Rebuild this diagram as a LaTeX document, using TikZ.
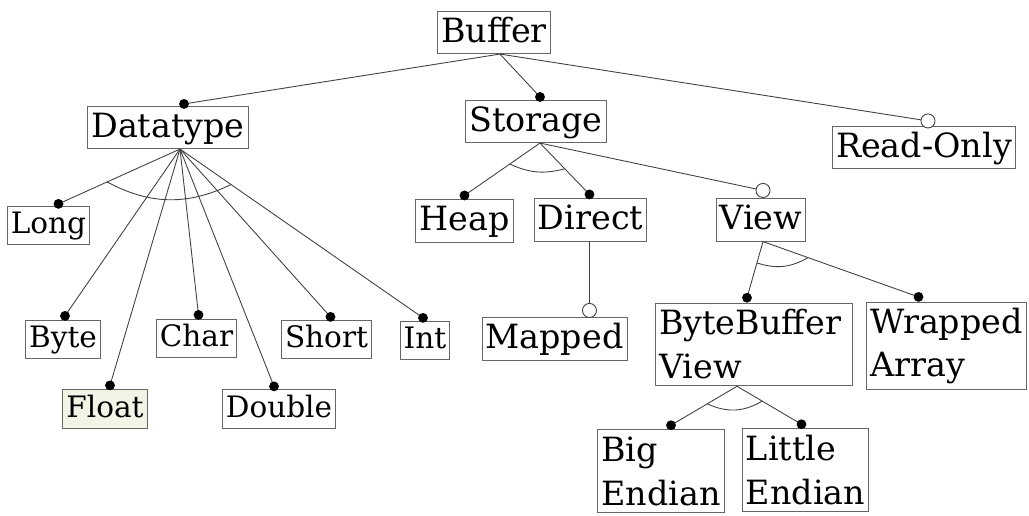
\documentclass[tikz,border=0pt]{standalone}
\usepackage{fontspec}
\setmainfont{DejaVu Serif}
\usetikzlibrary{calc,positioning}

\definecolor{floatbg}{HTML}{F2F4E6}
\tikzset{
  feat/.style={draw=black!60,line width=0.55pt,inner xsep=2pt,inner ysep=1.5pt,
    font=\fontsize{19}{22}\selectfont,text height=16pt,text depth=5pt},
  small/.style={font=\fontsize{16.8}{20}\selectfont,text height=13.5pt,text depth=4.3pt,inner ysep=2pt},
  twoline/.style={draw=black!60,line width=0.55pt,inner xsep=2pt,inner ysep=3pt,
    font=\fontsize{19}{25}\selectfont,align=left,minimum height=47pt},
  edge/.style={draw=black!75,line width=0.5pt},
}

\begin{document}
\begin{tikzpicture}[x=0.02cm,y=-0.02cm]
\useasboundingbox (0,0) rectangle (1029,515);
% features
\node[feat] (buffer) at (494,32.5) {Buffer};
\node[feat] (datatype) at (168,127.5) {Datatype};
\node[feat] (storage) at (536,121.5) {Storage};
\node[feat] (readonly) at (924,147.5) {Read-Only};
\node[feat,small] (long) at (48.5,225.5) {Long};
\node[feat,small] (byte) at (63,339.5) {Byte};
\node[feat,small,fill=floatbg] (float) at (105,409) {Float};
\node[feat,small] (char) at (196.5,338.5) {Char};
\node[feat,small] (double) at (279,409) {Double};
\node[feat,small] (short) at (326.5,339.5) {Short};
\node[feat,small] (int) at (425,340.5) {Int};
\node[feat] (heap) at (464.5,221) {Heap};
\node[feat] (direct) at (590.5,220) {Direct};
\node[feat] (view) at (761,220) {View};
\node[feat] (mapped) at (554.5,339) {Mapped};
\node[twoline,text width=108pt] (bbview) at (754,344.5) {ByteBuffer\\View};
\node[twoline] (wrapped) at (946.5,346) {Wrapped\\Array};
\node[twoline] (bigend) at (661,471) {Big\\Endian};
\node[twoline] (littleend) at (805.5,470) {Little\\Endian};

% where the connectors meet the boxes
\coordinate (buffer-o) at ($(buffer.south)+(6,0)$);
\coordinate (datatype-i) at ($(datatype.north)+(16,-2)$); \coordinate (datatype-o) at ($(datatype.south)+(12,0)$);
\coordinate (storage-i) at ($(storage.north)+(4,-3)$); \coordinate (storage-o) at ($(storage.south)+(4,0)$);
\coordinate (readonly-i) at ($(readonly.north)+(4,-5)$);
\coordinate (long-i) at ($(long.north)+(10,-2)$);
\coordinate (byte-i) at ($(byte.north)+(2,-4)$);
\coordinate (float-i) at ($(float.north)+(5,-4)$);
\coordinate (char-i) at ($(char.north)+(2,-4)$);
\coordinate (double-i) at ($(double.north)+(-5,-3)$);
\coordinate (short-i) at ($(short.north)+(4,-3)$);
\coordinate (int-i) at ($(int.north)+(-2,-3)$);
\coordinate (heap-i) at ($(heap.north)+(0,-4)$);
\coordinate (direct-i) at ($(direct.north)+(-1,-4)$); \coordinate (direct-o) at ($(direct.south)+(-1,0)$);
\coordinate (view-i) at ($(view.north)+(2,-8)$); \coordinate (view-o) at ($(view.south)+(2,0)$);
\coordinate (mapped-i) at (direct-o |- {$(mapped.north)+(0,-7)$});
\coordinate (bbview-i) at ($(bbview.north)+(-7,-5)$); \coordinate (bbview-o) at ($(bbview.south)+(-17,0)$);
\coordinate (wrapped-i) at ($(wrapped.north)+(-28,-5)$);
\coordinate (bigend-i) at ($(bigend.north)+(10,-4)$);
\coordinate (littleend-i) at ($(littleend.north)+(-4,-4)$);

% connectors
\draw[edge] (buffer-o) -- (datatype-i); \draw[edge] (buffer-o) -- (storage-i); \draw[edge] (buffer-o) -- (readonly-i);
\foreach \c in {long,byte,float,char,double,short,int} \draw[edge] (datatype-o) -- (\c-i);
\foreach \c in {heap,direct,view} \draw[edge] (storage-o) -- (\c-i);
\draw[edge] (direct-o) -- (mapped-i);
\draw[edge] (view-o) -- (bbview-i); \draw[edge] (view-o) -- (wrapped-i);
\draw[edge] (bbview-o) -- (bigend-i); \draw[edge] (bbview-o) -- (littleend-i);

% group arcs
\draw[edge] ($(datatype-o)!0.6!(long-i)$) to[bend right=27] ($(datatype-o)!0.21!(int-i)$);
\draw[edge] ($(storage-o)!0.4!(heap-i)$) to[bend right=20] ($(storage-o)!0.5!(direct-i)$);
\draw[edge] ($(view-o)!0.38!(bbview-i)$) to[bend right=24] ($(view-o)!0.29!(wrapped-i)$);
\draw[edge] ($(bbview-o)!0.45!(bigend-i)$) to[bend right=28] ($(bbview-o)!0.39!(littleend-i)$);

% mandatory and optional markers
\foreach \p in {datatype,storage,long,byte,float,char,double,short,int,heap,direct,bbview,wrapped,bigend,littleend}
  \fill (\p-i) circle (2.8pt);
\foreach \p in {readonly,view,mapped}
  \draw[edge,fill=white] (\p-i) circle (4pt);
\end{tikzpicture}
\end{document}
